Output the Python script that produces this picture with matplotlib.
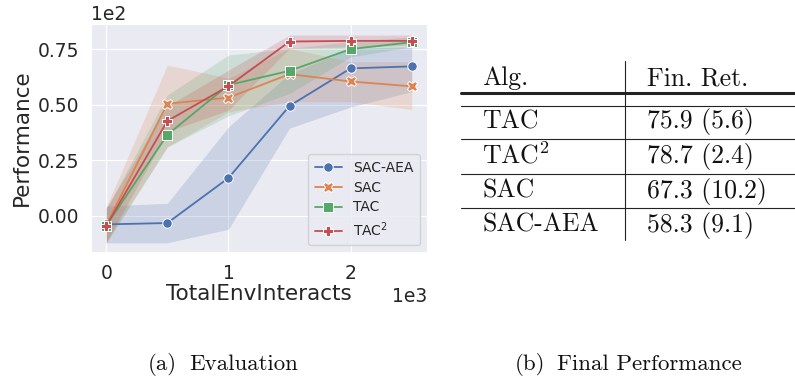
import matplotlib
matplotlib.use("Agg")
import matplotlib.pyplot as plt
from matplotlib.lines import Line2D
import seaborn as sns

# ---- learning curves (performance vs. environment interactions) ----
steps = [0, 500, 1000, 1500, 2000, 2500]

sac_aea_mean = [-3.9, -3.3, 17.0, 49.5, 66.4, 67.3]
sac_aea_lo = [-12.2, -12.2, -6.1, 39.5, 49.0, 55.9]
sac_aea_hi = [4.4, 5.6, 40.0, 64.0, 75.4, 76.1]

sac_mean = [-4.2, 50.5, 53.2, 63.8, 60.5, 58.3]
sac_lo = [-12.5, 31.0, 46.8, 51.4, 51.4, 47.9]
sac_hi = [4.0, 67.9, 62.0, 75.4, 69.4, 69.4]

tac_mean = [-4.5, 36.5, 58.9, 65.3, 75.1, 78.2]
tac_lo = [-12.0, 31.0, 45.0, 55.1, 71.6, 76.1]
tac_hi = [3.0, 54.4, 72.4, 75.4, 78.4, 80.6]

tac2_mean = [-4.5, 42.7, 58.4, 78.5, 78.8, 78.8]
tac2_lo = [-12.0, 37.8, 47.6, 75.4, 76.1, 76.9]
tac2_hi = [3.5, 49.4, 65.6, 81.4, 81.4, 81.4]

series_labels = ["SAC-AEA", "SAC", "TAC", r"TAC$^2$"]
x_ticks = [0, 1000, 2000]
y_ticks = [0, 25, 50, 75]

# ---- final performance table ----
table_header = ["Alg.", "Fin. Ret."]
table_algs = ["TAC", r"TAC$^2$", "SAC", "SAC-AEA"]
table_returns = ["75.9 (5.6)", "78.7 (2.4)", "67.3 (10.2)", "58.3 (9.1)"]

captions = [("(a)", "Evaluation"), ("(b)", "Final Performance")]

sns.set_style("darkgrid")
plt.rcParams["font.family"] = ["DejaVu Sans"]
plt.rcParams["mathtext.fontset"] = "dejavusans"

W, H = 795, 378
fig = plt.figure(figsize=(W / 100, H / 100), dpi=100)


def fx(x):
    return x / W


def fy(y):
    return 1 - y / H


ax = fig.add_axes([fx(91), fy(252), fx(427) - fx(91), fy(24) - fy(252)])

palette = sns.color_palette("deep")
markers = ["o", "X", "s", "P"]
curves = [
    (sac_aea_mean, sac_aea_lo, sac_aea_hi),
    (sac_mean, sac_lo, sac_hi),
    (tac_mean, tac_lo, tac_hi),
    (tac2_mean, tac2_lo, tac2_hi),
]

for (mean, lo, hi), color, mk, label in zip(curves, palette, markers, series_labels):
    ax.fill_between(steps, lo, hi, color=color, alpha=0.2, linewidth=0)
    ax.plot(steps, mean, color=color, marker=mk, markersize=7.5 if mk != "o" else 6.8,
            markeredgecolor="white", markeredgewidth=0.7, linewidth=1.3, label=label)

ax.set_xlim(-125, 2625)
ax.set_ylim(-16.35, 86.4)
ax.set_xticks(x_ticks)
ax.set_yticks(y_ticks)
ax.ticklabel_format(axis="y", style="sci", scilimits=(2, 2))
ax.ticklabel_format(axis="x", style="sci", scilimits=(3, 3))
ax.tick_params(labelsize=13.5, colors="#262626", pad=5)
ax.yaxis.get_offset_text().set_fontsize(13.5)
ax.xaxis.get_offset_text().set_fontsize(13.5)
ax.set_xlabel("TotalEnvInteracts", fontsize=15.5, color="#262626", labelpad=1)
ax.set_ylabel("Performance", fontsize=15.5, color="#262626", labelpad=4)

leg = ax.legend(loc="lower right", fontsize=10, frameon=True, handlelength=2.0,
                handletextpad=0.8, borderpad=0.45, labelspacing=0.42, markerscale=1.0)
leg.get_frame().set_facecolor("#EAEAF2")
leg.get_frame().set_edgecolor("#CCCCCC")

# ---- table drawn with serif text and rules ----
serif = "cmr10"
tsize = 18.5
line_color = "#222222"


def hline(y, lw):
    fig.add_artist(Line2D([fx(461), fx(800)], [fy(y), fy(y)], transform=fig.transFigure,
                          color=line_color, linewidth=lw))


hline(93.3, 2.2)
hline(105.7, 0.8)
for yy in [139, 174.3, 208.3]:
    hline(yy, 0.8)
fig.add_artist(Line2D([fx(625), fx(625)], [fy(60.7), fy(240)], transform=fig.transFigure,
                      color=line_color, linewidth=0.8))

plt.rcParams["mathtext.fontset"] = "cm"
col_x = [482, 647]
fig.text(fx(col_x[0]), fy(85), table_header[0], family=serif, fontsize=tsize,
         ha="left", va="baseline", color="#111111")
fig.text(fx(col_x[1]), fy(85), table_header[1], family=serif, fontsize=tsize,
         ha="left", va="baseline", color="#111111")
row_baselines = [128.3, 163.3, 197.7, 231.7]
for alg, ret, yb in zip(table_algs, table_returns, row_baselines):
    fig.text(fx(col_x[0]), fy(yb), alg, family=serif, fontsize=tsize,
             ha="left", va="baseline", color="#111111")
    fig.text(fx(col_x[1]), fy(yb), ret, family=serif, fontsize=tsize,
             ha="left", va="baseline", color="#111111")

# ---- sub-captions ----
cap_pos = [(148, 189), (515, 557)]
for (tag, text), (x_tag, x_text) in zip(captions, cap_pos):
    fig.text(fx(x_tag), fy(369.5), tag, family=serif, fontsize=16.5,
             ha="left", va="baseline", color="#111111")
    fig.text(fx(x_text), fy(369.5), text, family=serif, fontsize=16.5,
             ha="left", va="baseline", color="#111111")

fig.savefig("out.png", dpi=100, facecolor="white")
